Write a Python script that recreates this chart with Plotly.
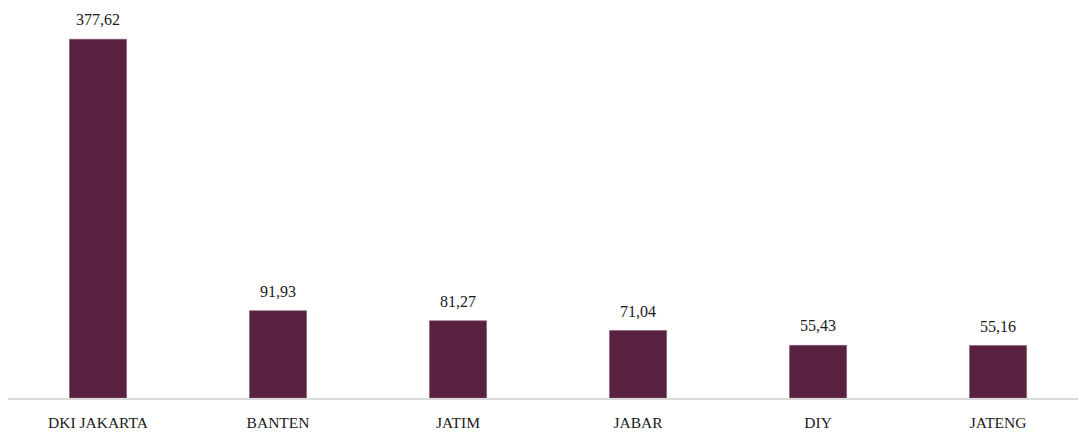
import plotly.graph_objects as go

provinces = ["DKI JAKARTA", "BANTEN", "JATIM", "JABAR", "DIY", "JATENG"]
values = [377.62, 91.93, 81.27, 71.04, 55.43, 55.16]

labels = [f"{v:.2f}".replace(".", ",") for v in values]

fig = go.Figure(
    go.Bar(
        x=provinces,
        y=values,
        marker=dict(color="#58213f", line=dict(color="#8a5a74", width=0.6)),
        width=0.317,
    )
)

# value labels above each bar
for p, v, t in zip(provinces, values, labels):
    fig.add_annotation(
        x=p,
        y=v,
        text=t,
        showarrow=False,
        yanchor="bottom",
        yshift=9,
        font=dict(family="Liberation Serif", size=16, color="#1a1a1a"),
    )

fig.update_layout(
    width=1078,
    height=433,
    margin=dict(l=8, r=0, t=18, b=35),
    plot_bgcolor="white",
    paper_bgcolor="white",
    showlegend=False,
    font=dict(family="Liberation Serif", size=15, color="#1a1a1a"),
)
fig.update_xaxes(
    range=[-0.5, 5.444],
    showline=True,
    linecolor="#d9d9d9",
    linewidth=1.5,
    ticks="",
    ticklabelstandoff=10,
    tickfont=dict(family="Liberation Serif", size=15.5, color="#1a1a1a"),
)
fig.update_yaxes(
    range=[0, 400],
    visible=False,
    showgrid=False,
    zeroline=False,
)

fig.write_html("out.html")
